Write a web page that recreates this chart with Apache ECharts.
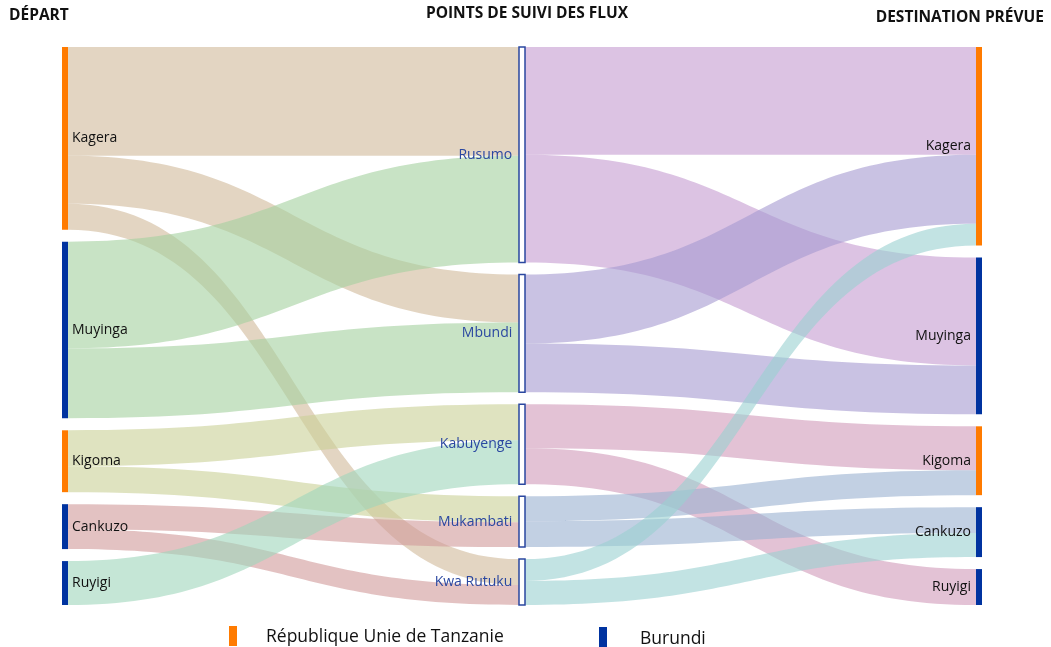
<!DOCTYPE html>
<html>
<head>
<meta charset="utf-8">
<script src="https://cdn.jsdelivr.net/npm/echarts@6/dist/echarts.min.js"></script>
<style>
  html, body { margin: 0; padding: 0; background: #fff; }
  #chart { width: 1051px; height: 647px; }
</style>
</head>
<body>
<div id="chart"></div>
<script>
// colonnes du sankey
const departs = ['Kagera', 'Muyinga', 'Kigoma', 'Cankuzo', 'Ruyigi'];
const pointsSuivi = ['Rusumo', 'Mbundi', 'Kabuyenge', 'Mukambati', 'Kwa Rutuku'];
const destinations = ['Kagera', 'Muyinga', 'Kigoma', 'Cankuzo', 'Ruyigi'];
const paysDepart = ['TZ', 'BI', 'TZ', 'BI', 'BI'];
const paysDestination = ['TZ', 'BI', 'TZ', 'BI', 'BI'];

// flux départ -> point de suivi : [départ, point, valeur]
const fluxDepart = [
  ['Kagera', 'Rusumo', 109],
  ['Kagera', 'Mbundi', 48],
  ['Kagera', 'Kwa Rutuku', 26],
  ['Muyinga', 'Rusumo', 107],
  ['Muyinga', 'Mbundi', 70],
  ['Kigoma', 'Kabuyenge', 36],
  ['Kigoma', 'Mukambati', 26],
  ['Cankuzo', 'Mukambati', 25],
  ['Cankuzo', 'Kwa Rutuku', 20],
  ['Ruyigi', 'Kabuyenge', 44]
];

// flux point de suivi -> destination prévue
const fluxDestination = [
  ['Rusumo', 'Kagera', 108],
  ['Rusumo', 'Muyinga', 108],
  ['Mbundi', 'Kagera', 69],
  ['Mbundi', 'Muyinga', 49],
  ['Kabuyenge', 'Kigoma', 44],
  ['Kabuyenge', 'Ruyigi', 36],
  ['Mukambati', 'Kigoma', 25],
  ['Mukambati', 'Cankuzo', 26],
  ['Kwa Rutuku', 'Kagera', 22],
  ['Kwa Rutuku', 'Cankuzo', 24]
];

const COULEUR_PAYS = { TZ: '#ff7b00', BI: '#0033a0' };
const BLEU_LABEL = '#2a47a0';
const FONT = '"Open Sans", sans-serif';

// couleurs des rubans (par noeud source)
const couleurFlux = {
  'Kagera': '#d0b999',
  'Muyinga': '#a3d09e',
  'Kigoma': '#cad096',
  'Cankuzo': '#d09999',
  'Ruyigi': '#9ed5bb',
  'Rusumo': '#c59bd0',
  'Mbundi': '#a599d0',
  'Kabuyenge': '#d099b9',
  'Mukambati': '#99b1d0',
  'Kwa Rutuku': '#99d0d0'
};

const DEST = ' ';  // suffixe pour distinguer les noms de destination

const nodes = [];
departs.forEach((n, i) => {
  nodes.push({
    name: n, depth: 0,
    itemStyle: { color: COULEUR_PAYS[paysDepart[i]], borderWidth: 0 },
    label: { position: 'right', distance: 4, color: '#111' }
  });
});
pointsSuivi.forEach(n => {
  nodes.push({
    name: n, depth: 1,
    itemStyle: { color: '#fff', borderColor: BLEU_LABEL, borderWidth: 1.5 },
    label: { position: 'left', distance: 6, color: BLEU_LABEL }
  });
});
destinations.forEach((n, i) => {
  nodes.push({
    name: n + DEST, depth: 2,
    itemStyle: { color: COULEUR_PAYS[paysDestination[i]], borderWidth: 0 },
    label: { position: 'left', distance: 5, color: '#111' }
  });
});

const links = [];
fluxDepart.forEach(f => {
  links.push({ source: f[0], target: f[1], value: f[2],
    lineStyle: { color: couleurFlux[f[0]] } });
});
fluxDestination.forEach(f => {
  links.push({ source: f[0], target: f[1] + DEST, value: f[2],
    lineStyle: { color: couleurFlux[f[0]] } });
});

const chart = echarts.init(document.getElementById('chart'), null, { renderer: 'canvas' });

chart.setOption({
  backgroundColor: '#fff',
  animation: false,
  series: [{
    type: 'sankey',
    left: 62,
    right: 69,
    top: 47,
    bottom: 42,
    nodeWidth: 6,
    nodeGap: 12,
    nodeAlign: 'justify',
    layoutIterations: 0,
    draggable: false,
    emphasis: { disabled: true },
    label: {
      fontFamily: FONT,
      fontSize: 14,
      formatter: p => p.name.trim()
    },
    lineStyle: { opacity: 0.6, curveness: 0.5 },
    data: nodes,
    links: links
  }],
  graphic: [
    { type: 'text', x: 9, y: 8,
      style: { text: 'DÉPART', font: 'bold 15.5px ' + FONT, fill: '#111' } },
    { type: 'text', x: 527, y: 6,
      style: { text: 'POINTS DE SUIVI DES FLUX', font: 'bold 15.5px ' + FONT, fill: '#111', align: 'center' } },
    { type: 'text', x: 1044, y: 10,
      style: { text: 'DESTINATION PRÉVUE', font: 'bold 15.5px ' + FONT, fill: '#111', align: 'right' } },
    // légende
    { type: 'rect', shape: { x: 229, y: 626, width: 8, height: 20 }, style: { fill: COULEUR_PAYS.TZ } },
    { type: 'text', x: 266, y: 628,
      style: { text: 'République Unie de Tanzanie', font: '17.5px ' + FONT, fill: '#111' } },
    { type: 'rect', shape: { x: 599, y: 627, width: 8, height: 20 }, style: { fill: COULEUR_PAYS.BI } },
    { type: 'text', x: 640, y: 630,
      style: { text: 'Burundi', font: '17.5px ' + FONT, fill: '#111' } }
  ]
});
</script>
</body>
</html>
